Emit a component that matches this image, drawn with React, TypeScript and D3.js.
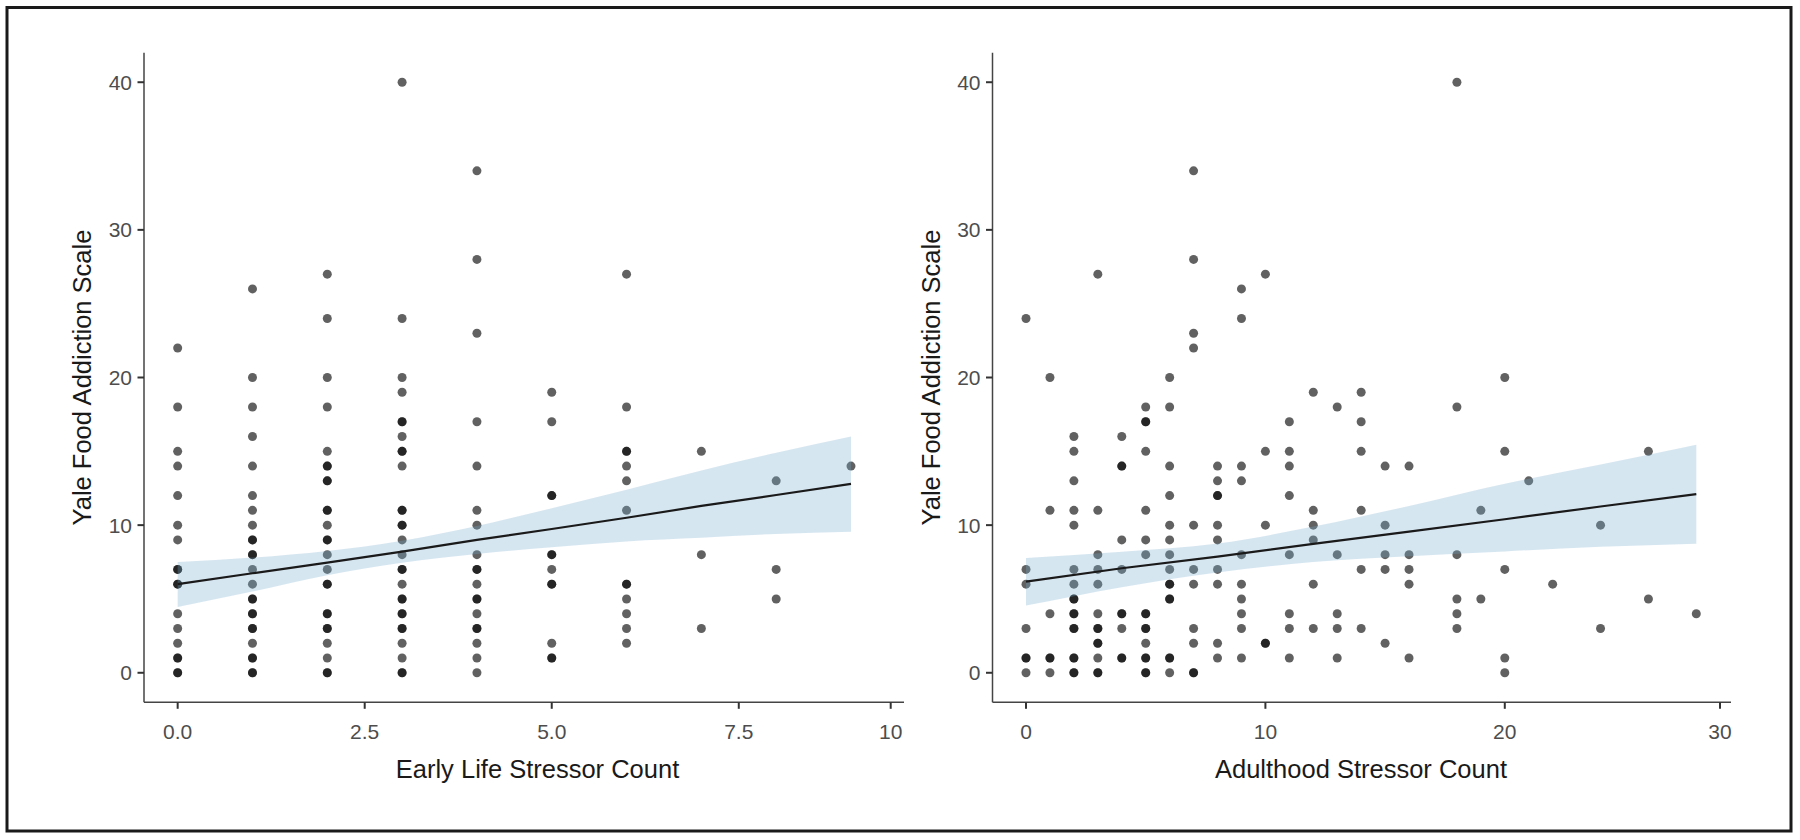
import React from "react";
import * as d3 from "d3";

// ---------- data ----------
const yTicks = [0, 10, 20, 30, 40];
const yTickLabels = ["0", "10", "20", "30", "40"];

const earlyTickValues = [0, 2.5, 5, 7.5, 10];
const earlyTickLabels = ["0.0", "2.5", "5.0", "7.5", "10"];
const adultTickValues = [0, 10, 20, 30];
const adultTickLabels = ["0", "10", "20", "30"];

// Early life stressor count (x) and YFAS scores per x (repeated values = overlapping points)
const earlyX = [0, 1, 2, 3, 4, 5, 6, 7, 8, 9];
const earlyYfas = [
  [22, 18, 15, 14, 12, 10, 9, 7, 7, 6, 6, 4, 3, 2, 1, 1, 0, 0],
  [26, 20, 18, 16, 14, 12, 11, 10, 9, 9, 8, 8, 7, 6, 5, 5, 4, 4, 3, 3, 2, 1, 1, 0, 0],
  [27, 24, 20, 18, 15, 14, 14, 13, 13, 11, 11, 10, 9, 9, 8, 7, 6, 6, 4, 4, 3, 3, 2, 1, 0, 0],
  [40, 24, 20, 19, 17, 17, 16, 15, 15, 14, 11, 11, 10, 10, 9, 8, 7, 7, 6, 5, 5, 4, 4, 3, 3, 2, 1, 0, 0],
  [34, 28, 23, 17, 14, 11, 10, 8, 7, 7, 6, 5, 5, 4, 3, 3, 2, 1, 0],
  [19, 17, 12, 12, 8, 8, 7, 6, 6, 2, 1, 1],
  [27, 18, 15, 15, 14, 13, 11, 6, 6, 5, 4, 3, 2],
  [15, 8, 3],
  [13, 7, 5],
  [14],
];

// Adulthood stressor count (x) and YFAS scores per x
const adultX = [0, 1, 2, 3, 4, 5, 6, 7, 8, 9, 10, 11, 12, 13, 14, 15, 16, 18, 19, 20, 21, 22, 24, 26, 28];
const adultYfas = [
  [24, 7, 6, 3, 1, 1, 0],
  [20, 11, 4, 1, 1, 0],
  [16, 15, 13, 11, 10, 7, 6, 5, 5, 4, 4, 3, 3, 1, 1, 0, 0],
  [27, 11, 8, 7, 6, 4, 3, 3, 2, 2, 1, 0, 0],
  [16, 14, 14, 9, 7, 4, 4, 3, 1, 1],
  [18, 17, 17, 15, 11, 9, 8, 4, 4, 3, 3, 2, 1, 1, 0, 0],
  [20, 18, 14, 12, 10, 9, 8, 7, 6, 6, 5, 5, 1, 1, 0],
  [34, 28, 23, 22, 10, 7, 6, 3, 2, 0, 0],
  [14, 13, 12, 12, 10, 9, 7, 6, 2, 1],
  [26, 24, 14, 13, 8, 6, 5, 4, 3, 1],
  [27, 15, 10, 2, 2],
  [17, 15, 14, 12, 8, 4, 3, 1],
  [19, 11, 10, 9, 6, 3],
  [18, 8, 4, 3, 1],
  [19, 17, 15, 11, 7, 3],
  [14, 10, 8, 7, 2],
  [14, 8, 7, 6, 1],
  [40, 18, 8, 5, 4, 3],
  [11, 5],
  [20, 15, 7, 1, 0],
  [13],
  [6],
  [10, 3],
  [15, 5],
  [4],
];

// Fitted line and confidence band
const earlyBandX = [0, 1, 2, 3, 4, 5, 6, 7, 8, 9];
const earlyFit = [6.0, 6.74, 7.46, 8.2, 9.0, 9.74, 10.5, 11.3, 12.04, 12.79];
const earlyUpper = [7.5, 7.8, 8.25, 8.95, 9.95, 11.15, 12.4, 13.7, 14.9, 16.0];
const earlyLower = [4.45, 5.5, 6.6, 7.45, 8.05, 8.5, 8.9, 9.15, 9.4, 9.55];

const adultBandX = [0, 4, 8, 12, 16, 20, 24, 28];
const adultFit = [6.17, 7.08, 7.87, 8.73, 9.56, 10.4, 11.26, 12.1];
const adultUpper = [7.77, 8.2, 8.75, 9.9, 11.3, 12.8, 14.1, 15.45];
const adultLower = [4.55, 5.8, 6.8, 7.5, 7.9, 8.22, 8.53, 8.74];

// ---------- layout ----------
const W = 1800;
const H = 840;
const PLOT_TOP = 52.7;
const PLOT_BOTTOM = 702.3;
const FONT = "'Liberation Sans', Arial, Helvetica, sans-serif";

const yScale = d3.scaleLinear().domain([-2, 42]).range([PLOT_BOTTOM, PLOT_TOP]);

const earlyScale = d3
  .scaleLinear()
  .domain([-0.45, 9, 10, 10.33])
  .range([144, 851, 890.7, 904]);
const adultScale = d3
  .scaleLinear()
  .domain([-1.4, 28, 30, 30.45])
  .range([992.5, 1696.3, 1720, 1731]);

type PanelProps = {
  xScale: d3.ScaleLinear<number, number>;
  xs: number[];
  ys: number[][];
  bandX: number[];
  fit: number[];
  upper: number[];
  lower: number[];
  tickValues: number[];
  tickLabels: string[];
  xTitle: string;
  xTitleX: number;
  yTitleX: number;
};

function Panel(p: PanelProps) {
  const r = p.xScale.range();
  const x0 = r[0];
  const x1 = r[r.length - 1];
  const points: { x: number; y: number }[] = [];
  p.xs.forEach((x, i) => p.ys[i].forEach((y) => points.push({ x, y })));

  const idx = p.bandX.map((_, i) => i);
  const area = d3
    .area<number>()
    .x((i) => p.xScale(p.bandX[i]))
    .y0((i) => yScale(p.lower[i]))
    .y1((i) => yScale(p.upper[i]))
    .curve(d3.curveMonotoneX);
  const line = d3
    .line<number>()
    .x((i) => p.xScale(p.bandX[i]))
    .y((i) => yScale(p.fit[i]));

  return (
    <g>
      {points.map((d, i) => (
        <circle
          key={i}
          cx={p.xScale(d.x)}
          cy={yScale(d.y)}
          r={4.5}
          fill="#000"
          fillOpacity={0.62}
        />
      ))}
      <path d={area(idx) || ""} fill="rgb(118,172,205)" fillOpacity={0.3} />
      <path d={line(idx) || ""} fill="none" stroke="#1a1a1a" strokeWidth={2.2} />

      {/* axes */}
      <line x1={x0} x2={x0} y1={PLOT_TOP} y2={PLOT_BOTTOM} stroke="#444" strokeWidth={1.5} />
      <line x1={x0} x2={x1} y1={PLOT_BOTTOM} y2={PLOT_BOTTOM} stroke="#444" strokeWidth={1.5} />

      {yTicks.map((t, i) => (
        <g key={"y" + t}>
          <line x1={x0 - 6.5} x2={x0} y1={yScale(t)} y2={yScale(t)} stroke="#333" strokeWidth={2} />
          <text
            x={x0 - 12}
            y={yScale(t)}
            textAnchor="end"
            dominantBaseline="central"
            fontFamily={FONT}
            fontSize={21}
            fill="#4d4d4d"
          >
            {yTickLabels[i]}
          </text>
        </g>
      ))}
      {p.tickValues.map((t, i) => (
        <g key={"x" + t}>
          <line
            x1={p.xScale(t)}
            x2={p.xScale(t)}
            y1={PLOT_BOTTOM}
            y2={PLOT_BOTTOM + 6.5}
            stroke="#333"
            strokeWidth={2}
          />
          <text
            x={p.xScale(t)}
            y={PLOT_BOTTOM + 36.5}
            textAnchor="middle"
            fontFamily={FONT}
            fontSize={21}
            fill="#4d4d4d"
          >
            {p.tickLabels[i]}
          </text>
        </g>
      ))}

      <text
        x={p.xTitleX}
        y={778}
        textAnchor="middle"
        fontFamily={FONT}
        fontSize={25.5}
        fill="#1a1a1a"
      >
        {p.xTitle}
      </text>
      <text
        transform={`translate(${p.yTitleX},${(PLOT_TOP + PLOT_BOTTOM) / 2}) rotate(-90)`}
        textAnchor="middle"
        fontFamily={FONT}
        fontSize={25.5}
        fill="#1a1a1a"
      >
        Yale Food Addiction Scale
      </text>
    </g>
  );
}

export default function App() {
  return (
    <svg
      width={W}
      height={H}
      viewBox={`0 0 ${W} ${H}`}
      style={{ position: "absolute", left: 0, top: 0, background: "#fff" }}
    >
      <rect x={0} y={0} width={W} height={H} fill="#fff" />
      <rect x={7} y={7.5} width={1784} height={823.5} fill="none" stroke="#1a1a1a" strokeWidth={3} />
      <Panel
        xScale={earlyScale}
        xs={earlyX}
        ys={earlyYfas}
        bandX={earlyBandX}
        fit={earlyFit}
        upper={earlyUpper}
        lower={earlyLower}
        tickValues={earlyTickValues}
        tickLabels={earlyTickLabels}
        xTitle="Early Life Stressor Count"
        xTitleX={537.5}
        yTitleX={91}
      />
      <Panel
        xScale={adultScale}
        xs={adultX}
        ys={adultYfas}
        bandX={adultBandX}
        fit={adultFit}
        upper={adultUpper}
        lower={adultLower}
        tickValues={adultTickValues}
        tickLabels={adultTickLabels}
        xTitle="Adulthood Stressor Count"
        xTitleX={1361}
        yTitleX={940}
      />
    </svg>
  );
}
